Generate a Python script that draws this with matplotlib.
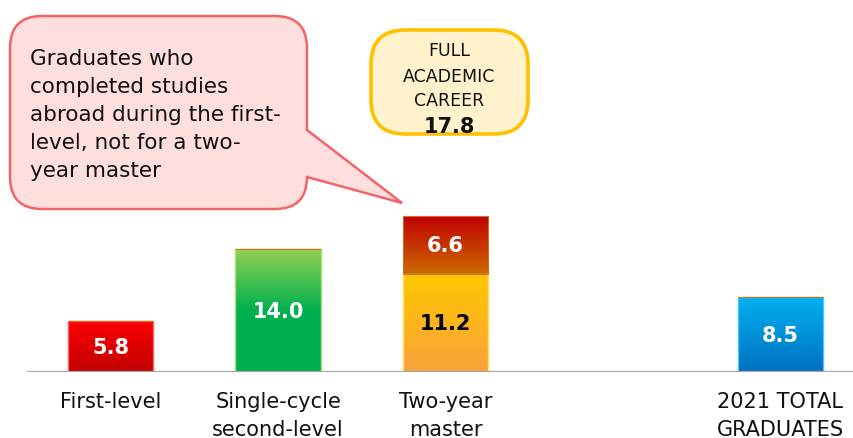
import numpy as np
import matplotlib
matplotlib.use("Agg")
import matplotlib.pyplot as plt
import matplotlib.transforms as mtransforms
from matplotlib.path import Path
from matplotlib.patches import PathPatch
from matplotlib.colors import LinearSegmentedColormap

# ---- data ----
categories = ["First-level", "Single-cycle\nsecond-level", "Two-year\nmaster", "2021 TOTAL\nGRADUATES"]
positions = [0, 1, 2, 4]
base_values = [5.8, 14.0, 11.2, 8.5]
stack_values = [0, 0, 6.6, 0]
full_career = 17.8
bubble_lines = ["Graduates who", "completed studies", "abroad during the first-",
                "level, not for a two-", "year master"]
box_lines = ["FULL", "ACADEMIC", "CAREER"]

base_grads = [["#FF0000", "#C00000"], ["#92D050", "#00B050", "#00B050"],
              ["#FFC800", "#F9A23C"], ["#00B0F0", "#0070C0"]]
base_edges = ["#FF6060", "#A8E070", "#FFE060", "#40C8F8"]
base_txt_colors = ["white", "white", "black", "white"]
stack_grad = ["#C00000", "#CC6A00"]

W, H = 854, 439
fig = plt.figure(figsize=(W / 100, H / 100), dpi=100)
# pixel transform (origin top-left)
pxT = mtransforms.Affine2D().scale(1 / 100.0).scale(1, -1).translate(0, H / 100.0) + fig.dpi_scale_trans

base_y = 373
ppu = 8.77
ax = fig.add_axes([27 / W, (H - base_y) / H, 1 - 27 / W, base_y / H])
ax.set_xlim(-0.5, 4.44)
ax.set_ylim(0, base_y / ppu)
ax.axis("off")
ax.axhline(0, color="#A6A6A6", lw=1.6, zorder=5)

width = 0.51


def grad_fill(bar, colors):
    cmap = LinearSegmentedColormap.from_list("g", colors[::-1])
    x0, y0 = bar.get_x(), bar.get_y()
    w, h = bar.get_width(), bar.get_height()
    grad = np.linspace(0, 1, 256).reshape(-1, 1)
    im = ax.imshow(grad, cmap=cmap, aspect="auto", origin="lower",
                   extent=(x0, x0 + w, y0, y0 + h), zorder=2)
    im.set_clip_path(bar)


bars = ax.bar(positions, base_values, width=width, zorder=3, facecolor="none",
              edgecolor=base_edges, linewidth=1.0)
for b, g in zip(bars, base_grads):
    grad_fill(b, g)
for b, v, c in zip(bars, base_values, base_txt_colors):
    ax.text(b.get_x() + b.get_width() / 2, v / 2, f"{v:.1f}",
            ha="center", va="center", color=c, fontsize=15, fontweight="bold", zorder=6)

sbars = ax.bar(positions, stack_values, width=width, bottom=base_values, zorder=3,
               facecolor="none", edgecolor="#D07020", linewidth=0.8)
for b, v in zip(sbars, stack_values):
    if v > 0:
        grad_fill(b, stack_grad)
        ax.text(b.get_x() + b.get_width() / 2, b.get_y() + v / 2, f"{v:.1f}",
                ha="center", va="center", color="white", fontsize=15,
                fontweight="bold", zorder=6)

for p, c in zip(positions, categories):
    for k, line in enumerate(c.split("\n")):
        ax.text(p, -(35 + 28.5 * k) / ppu, line, ha="center", va="baseline",
                fontsize=15, color="#111111", clip_on=False)


def rounded_path(x0, y0, x1, y1, r, tail=None):
    verts, codes = [], []
    verts += [(x0 + r, y0)]; codes += [Path.MOVETO]
    verts += [(x1 - r, y0)]; codes += [Path.LINETO]
    verts += [(x1, y0), (x1, y0 + r)]; codes += [Path.CURVE3] * 2
    if tail:
        for t in tail:
            verts.append(t); codes.append(Path.LINETO)
    verts += [(x1, y1 - r)]; codes += [Path.LINETO]
    verts += [(x1, y1), (x1 - r, y1)]; codes += [Path.CURVE3] * 2
    verts += [(x0 + r, y1)]; codes += [Path.LINETO]
    verts += [(x0, y1), (x0, y1 - r)]; codes += [Path.CURVE3] * 2
    verts += [(x0, y0 + r)]; codes += [Path.LINETO]
    verts += [(x0, y0), (x0 + r, y0)]; codes += [Path.CURVE3] * 2
    verts += [(x0 + r, y0)]; codes += [Path.CLOSEPOLY]
    return Path(verts, codes)


bubble = PathPatch(rounded_path(10, 17, 307, 210, 32, tail=[(307, 131), (402, 204), (307, 178)]),
                   facecolor="#FFDEDE", edgecolor="#F26468", lw=1.8, transform=pxT, zorder=10)
fig.add_artist(bubble)
for k, line in enumerate(bubble_lines):
    fig.text(30 / W, 1 - (65 + 28 * k) / H, line, ha="left", va="baseline",
             fontsize=15.5, color="#111111", zorder=11)

ybox = PathPatch(rounded_path(371, 31, 528, 135, 34), facecolor="#FFF2CC",
                 edgecolor="#FFC000", lw=2.6, transform=pxT, zorder=10)
fig.add_artist(ybox)
for k, (line, yb) in enumerate(zip(box_lines, [56, 82, 106])):
    fig.text(449 / W, 1 - yb / H, line, ha="center", va="baseline", fontsize=12.5,
             color="#111111", zorder=11)
fig.text(449 / W, 1 - 133 / H, f"{full_career:.1f}", ha="center", va="baseline",
         fontsize=15, fontweight="bold", color="#111111", zorder=11)

fig.savefig("out.png", dpi=100)
